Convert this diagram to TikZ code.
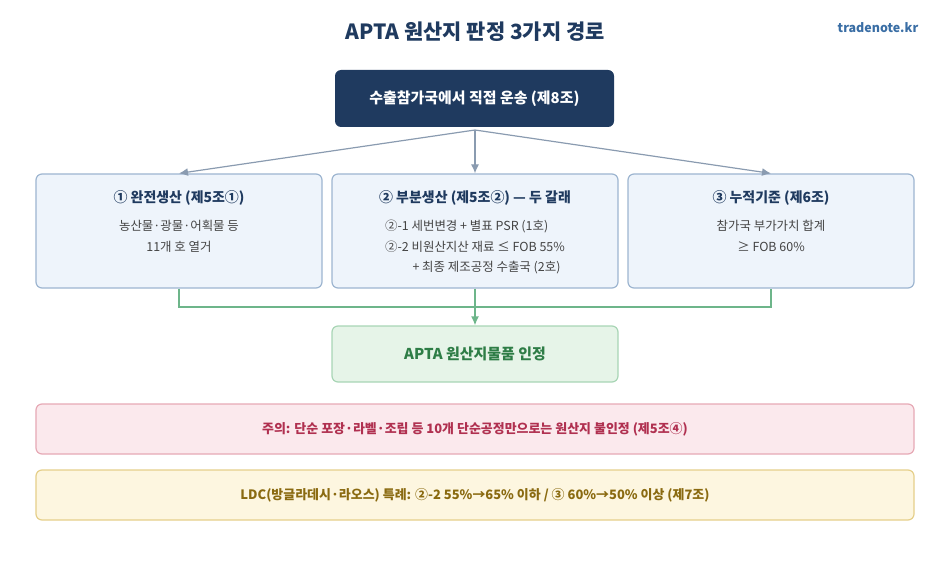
\documentclass[tikz,border=0pt]{standalone}
\usepackage{fontspec}
\setmainfont{Noto Sans CJK KR}
\usetikzlibrary{positioning,arrows.meta}
\definecolor{navy}{HTML}{1F3A5F}
\definecolor{boxfill}{HTML}{EEF4FB}
\definecolor{boxline}{HTML}{9DB5D0}
\definecolor{arrgray}{HTML}{8A9BB0}
\definecolor{okgreen}{HTML}{6DB58A}
\definecolor{okfill}{HTML}{E6F4E8}
\definecolor{okline}{HTML}{A8D5B5}
\definecolor{oktext}{HTML}{2E7D46}
\definecolor{warnfill}{HTML}{FBE9ED}
\definecolor{warnline}{HTML}{E6A9B5}
\definecolor{warntext}{HTML}{B03050}
\definecolor{ldcfill}{HTML}{FDF6E0}
\definecolor{ldcline}{HTML}{E5CF8A}
\definecolor{ldctext}{HTML}{8A6A10}
\definecolor{bodytext}{HTML}{444444}
\tikzset{
  route/.style={draw=boxline, fill=boxfill, rounded corners=6bp, line width=1.2bp,
    minimum width=286bp, minimum height=114bp},
  wide/.style={rounded corners=6bp, line width=1.2bp, minimum width=878bp, minimum height=50bp,
    font=\fontsize{13}{15}\selectfont\bfseries},
  flow/.style={draw=arrgray, line width=1.2bp, -{Latex[length=9bp,width=8bp]}},
  greenline/.style={draw=okgreen, line width=1.5bp}
}
\begin{document}
\begin{tikzpicture}[x=1bp,y=-1bp]
  \useasboundingbox (0,0) rectangle (950,575);
  \node (title) at (475,32) {\fontsize{21}{25}\selectfont\bfseries\color{navy}APTA 원산지 판정 3가지 경로};
  \node (site) at (878,28) {\fontsize{12.5}{14}\selectfont\bfseries\color[HTML]{3A6EA5}tradenote.kr};

  \node[fill=navy, rounded corners=6bp, minimum width=279bp, minimum height=57bp,
    text=white, font=\fontsize{15}{17}\selectfont\bfseries] (ship) at (474.5,98.5)
    {수출참가국에서 직접 운송 (제8조)};

  % three routes
  \node[route] (full) at (179,231) {};
  \node[route] (part) at (475,231) {};
  \node[route] (cum) at (771,231) {};

  \node[font=\fontsize{14}{16}\selectfont\bfseries, text=navy] at (179,198) {① 완전생산 (제5조①)};
  \node[font=\fontsize{12.5}{21}\selectfont, text=bodytext, align=center] at (179,236)
    {농산물·광물·어획물 등\\11개 호 열거};
  \node[font=\fontsize{14}{16}\selectfont\bfseries, text=navy] at (475,198) {② 부분생산 (제5조②) — 두 갈래};
  \node[font=\fontsize{12.5}{21}\selectfont, text=bodytext, align=left] at (475,247)
    {②-1 세번변경 + 별표 PSR (1호)\\②-2 비원산지산 재료 ≤ FOB 55\%\\\hspace*{2.2em}+ 최종 제조공정 수출국 (2호)};
  \node[font=\fontsize{14}{16}\selectfont\bfseries, text=navy] at (771,198) {③ 누적기준 (제6조)};
  \node[font=\fontsize{12.5}{21}\selectfont, text=bodytext, align=center] at (771,236)
    {참가국 부가가치 합계\\≥ FOB 60\%};

  \coordinate (fork) at (475,130);
  \draw[flow] (fork) -- (full.north);
  \draw[flow] (fork) -- (part.north);
  \draw[flow] (fork) -- (cum.north);

  \node[draw=okline, fill=okfill, rounded corners=6bp, line width=1.2bp,
    minimum width=286bp, minimum height=56bp, text=oktext,
    font=\fontsize{15}{17}\selectfont\bfseries] (ok) at (475,354) {APTA 원산지물품 인정};

  \coordinate (lj) at (179,307);
  \coordinate (mj) at (475,307);
  \coordinate (rj) at (771,307);
  \draw[greenline] (full.south) -- (lj) -- (rj) -- (cum.south);
  \draw[greenline] (part.south) -- (mj);
  \draw[greenline, -{Latex[length=9bp,width=8bp]}] (mj) -- (ok.north);

  \node[wide, draw=warnline, fill=warnfill, text=warntext] (warn) at (475,429)
    {주의: 단순 포장·라벨·조립 등 10개 단순공정만으로는 원산지 불인정 (제5조④)};
  \node[wide, draw=ldcline, fill=ldcfill, text=ldctext] (ldc) at (475,495)
    {LDC(방글라데시·라오스) 특례: ②-2 55\%→65\% 이하 / ③ 60\%→50\% 이상 (제7조)};
\end{tikzpicture}
\end{document}
